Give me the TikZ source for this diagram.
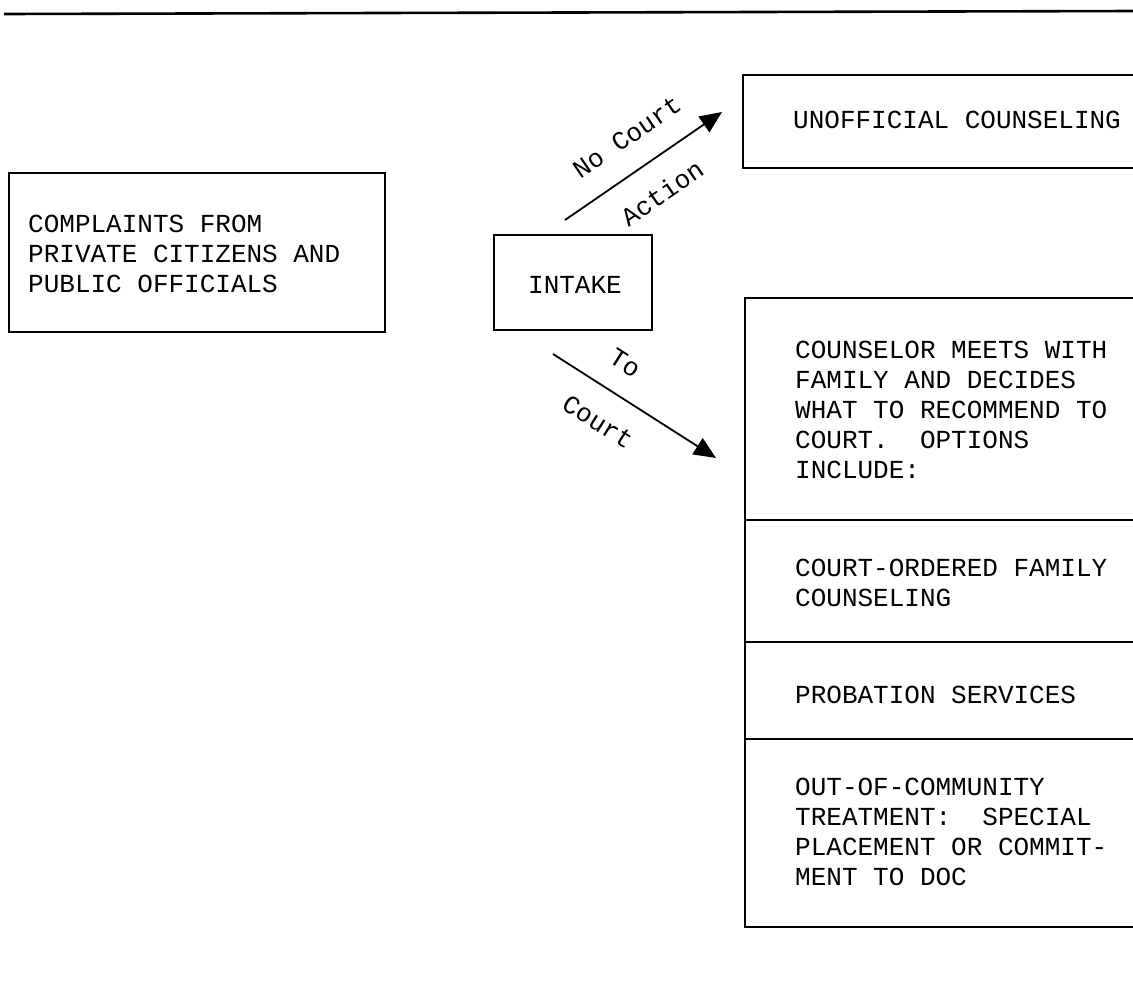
\documentclass[tikz,border=0pt]{standalone}
\usepackage{fontspec}
\setmonofont{Liberation Mono}
\usetikzlibrary{arrows.meta}
\tikzset{
  boxline/.style={draw=black, line width=1.6pt},
  txt/.style={font=\ttfamily\fontsize{26}{30}\selectfont, align=left, anchor=west, inner sep=0pt},
  lbl/.style={font=\ttfamily\fontsize{26}{30}\selectfont, inner sep=0pt},
  flow/.style={line width=1.8pt, -{Triangle[length=22pt,width=19pt]}}
}
\begin{document}
\begin{tikzpicture}[x=1pt,y=1pt]
\clip (0,0) rectangle (1133,-989);
\fill[white] (0,0) rectangle (1133,-989);
% top rule
\draw[line width=2.6pt] (4,-14) -- (1133,-11);
% complaints box
\node[boxline, rectangle, minimum width=376pt, minimum height=159pt, inner sep=0pt] (cbox) at (197,-252.5) {};
\node[txt] (ctext) at (28,-254) {COMPLAINTS FROM\\PRIVATE CITIZENS AND\\PUBLIC OFFICIALS};
% intake
\node[boxline, rectangle, minimum width=158pt, minimum height=95pt, inner sep=0pt] (intake) at (573,-282.5) {};
\node[lbl] (itext) at (575,-285) {INTAKE};
% unofficial counseling box (open on the right)
\draw[boxline] (1200,-75) -- (743,-75) -- (743,-168) -- (1200,-168);
\node[txt] (utext) at (793,-120) {UNOFFICIAL COUNSELING};
% court box with sections
\draw[boxline] (1200,-298) -- (745,-298) -- (745,-927) -- (1200,-927);
\draw[boxline] (745,-520) -- (1200,-520);
\draw[boxline] (745,-642) -- (1200,-642);
\draw[boxline] (745,-739) -- (1200,-739);
\node[txt] (t1) at (795,-410) {COUNSELOR MEETS WITH\\FAMILY AND DECIDES\\WHAT TO RECOMMEND TO\\COURT.\ \ OPTIONS\\INCLUDE:};
\node[txt] (t2) at (795,-583) {COURT-ORDERED FAMILY\\COUNSELING};
\node[txt] (t3) at (795,-695) {PROBATION SERVICES};
\node[txt] (t4) at (795,-832) {OUT-OF-COMMUNITY\\TREATMENT:\ \ SPECIAL\\PLACEMENT OR COMMIT-\\MENT TO DOC};
% connectors
\coordinate (a1s) at (565,-220);
\coordinate (a1e) at (722,-112);
\coordinate (a2s) at (553,-354);
\coordinate (a2e) at (716,-458);
\draw[flow] (a1s) -- (a1e);
\draw[flow] (a2s) -- (a2e);
\node[lbl, rotate=34.5] (l1) at (627,-137) {No Court};
\node[lbl, rotate=34.5] (l2) at (662,-193) {Action};
\node[lbl, rotate=-32.4] (l3) at (625,-363) {To};
\node[lbl, rotate=-32.4] (l4) at (598,-422) {Court};
\end{tikzpicture}
\end{document}
